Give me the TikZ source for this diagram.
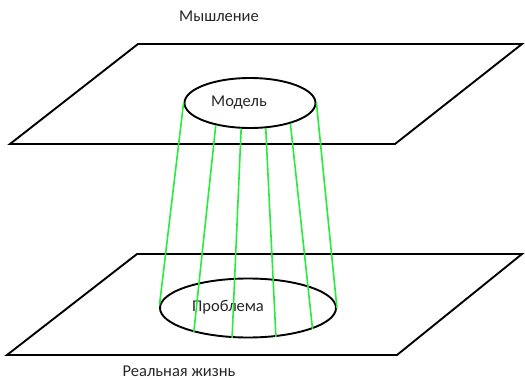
\documentclass[tikz,border=0pt]{standalone}
\usepackage{fontspec}
\setmainfont{Carlito}
\usetikzlibrary{shapes.geometric}

\begin{document}
\begin{tikzpicture}[x=1pt,y=-1pt]
\tikzstyle{every node}+=[inner sep=0pt]
\tikzstyle{plane}=[black, line width=1.9pt, line join=miter]
\tikzstyle{disc}=[draw=black, line width=1.9pt, ellipse]
\tikzstyle{ray}=[draw={rgb,255:red,40;green,235;blue,60}, line width=1.6pt]
\tikzstyle{word}=[text=black!85, font=\fontsize{16.5}{18}\selectfont]
\useasboundingbox (0,0) rectangle (525,380);
% planes
\draw [plane] (138,44) -- (522,44) -- (395,144) -- (10,144) -- cycle;
\draw [plane] (137,254) -- (522,254) -- (397,355) -- (7,355) -- cycle;
% ellipses
\node [disc, minimum width=131pt, minimum height=50pt] (model) at (250,103) {};
\node [disc, minimum width=176pt, minimum height=59pt] (problem) at (248,308) {};
% labels
\node [word] (think) at (219,16) {Мышление};
\node [word] (modeltext) at (239,103) {Модель};
\node [word] (problemtext) at (228,307) {Проблема};
\node [word] (life) at (179,371) {Реальная жизнь};
% projection lines
\draw [ray] (model.180) -- (problem.178);
\draw [ray] (model.213) -- (problem.204);
\draw [ray] (model.251) -- (problem.242);
\draw [ray] (model.302) -- (problem.314);
\draw [ray] (model.333) -- (problem.342);
\draw [ray] (model.0) -- (problem.0);
\end{tikzpicture}
\end{document}
